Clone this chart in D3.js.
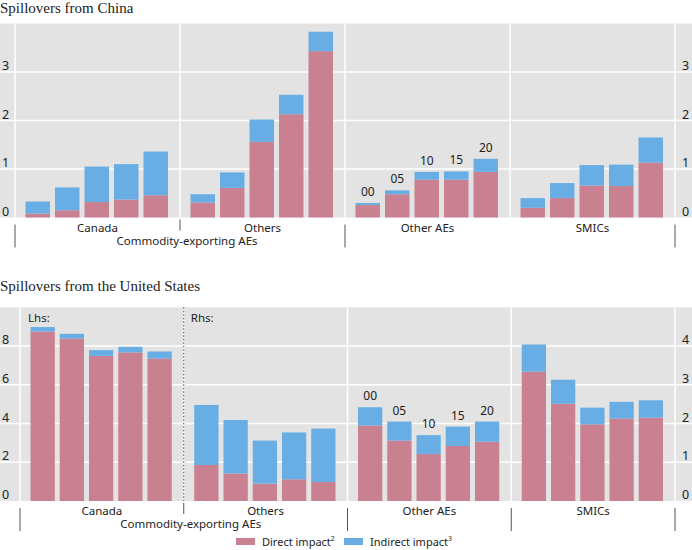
<!DOCTYPE html>
<html>
<head>
<meta charset="utf-8">
<script src="https://cdn.jsdelivr.net/npm/d3@7"></script>
<style>
  body { margin: 0; background: #fff; }
  text { font-family: "Noto Sans", sans-serif; fill: #222; }
  .title { font-family: "Liberation Serif", serif; font-size: 15px; }
</style>
</head>
<body>
<svg id="chart"></svg>
<script>
let years = ["00", "05", "10", "15", "20"];
let groups = ["Canada", "Others", "Other AEs", "SMICs"];

// spillovers from China, one row per group
let chinaDirect = [
  [0.08, 0.15, 0.32, 0.37, 0.46],
  [0.31, 0.61, 1.56, 2.13, 3.43],
  [0.26, 0.48, 0.78, 0.78, 0.94],
  [0.20, 0.40, 0.66, 0.65, 1.13]
];
let chinaIndirect = [
  [0.25, 0.47, 0.73, 0.73, 0.90],
  [0.17, 0.32, 0.46, 0.40, 0.40],
  [0.04, 0.08, 0.16, 0.17, 0.27],
  [0.20, 0.31, 0.42, 0.44, 0.52]
];

// spillovers from the US, Canada on lhs, the rest on rhs
let usDirect = [
  [8.75, 8.39, 7.49, 7.67, 7.36],
  [0.93, 0.71, 0.45, 0.56, 0.49],
  [1.95, 1.56, 1.21, 1.42, 1.53],
  [3.34, 2.51, 1.98, 2.13, 2.15]
];
let usIndirect = [
  [0.23, 0.24, 0.30, 0.29, 0.36],
  [1.55, 1.38, 1.11, 1.21, 1.38],
  [0.47, 0.49, 0.49, 0.50, 0.52],
  [0.70, 0.62, 0.43, 0.43, 0.45]
];

let chinaTicks = [0, 1, 2, 3];
let usLeftTicks = [0, 2, 4, 6, 8];
let usRightTicks = [0, 1, 2, 3, 4];

let w = 692;
let h = 550;
let colDirect = "#c98090";
let colIndirect = "#68aee4";
let bg = "#e3e3e3";

let svg = d3.select("#chart").attr("width", w).attr("height", h);

let drawChart = (o) => {
  let g = svg.append("g");

  g.append("text").attr("class", "title")
    .attr("x", 0).attr("y", o.titleY).text(o.title);

  g.append("rect")
    .attr("x", 0).attr("y", o.top)
    .attr("width", w).attr("height", o.bottom - o.top)
    .attr("fill", bg);

  let xg = d3.scaleBand().domain(groups).range(o.xRange);

  // horizontal grid from the left scale
  g.selectAll(".grid")
    .data(o.leftTicks.filter(d => d > 0))
    .enter().append("line")
    .attr("x1", 0).attr("x2", w)
    .attr("y1", d => o.yLeft(d)).attr("y2", d => o.yLeft(d))
    .attr("stroke", "#fff").attr("stroke-width", 1.5);

  // vertical separators between groups
  let seps = groups.map(d => xg(d)).concat([o.xRange[1]]);
  g.selectAll(".vsep")
    .data(seps)
    .enter().append("line")
    .attr("x1", d => d).attr("x2", d => d)
    .attr("y1", o.top).attr("y2", o.bottom)
    .attr("stroke", "#fff").attr("stroke-width", 1.5);

  groups.forEach((grp, gi) => {
    let y = o.scaleFor(gi);
    let xb = d3.scaleBand().domain(years)
      .range([xg(grp) + 10.5, xg(grp) + xg.bandwidth() - 12])
      .paddingInner(0.17);

    let rows = years.map((yr, i) => ({ year: yr, direct: o.direct[gi][i], indirect: o.indirect[gi][i] }));
    let stack = d3.stack().keys(["direct", "indirect"])(rows);

    g.append("g").selectAll("g")
      .data(stack)
      .enter().append("g")
      .attr("fill", d => d.key === "direct" ? colDirect : colIndirect)
      .selectAll("rect")
      .data(d => d)
      .enter().append("rect")
      .attr("x", d => xb(d.data.year))
      .attr("width", xb.bandwidth())
      .attr("y", d => y(d[1]))
      .attr("height", d => y(d[0]) - y(d[1]));

    if (grp === "Other AEs") {
      g.selectAll(".yr" + gi)
        .data(rows)
        .enter().append("text")
        .attr("x", d => xb(d.year) + xb.bandwidth() / 2)
        .attr("y", d => y(d.direct + d.indirect) - 7)
        .attr("text-anchor", "middle")
        .attr("font-size", "12px")
        .text(d => d.year);
    }

    g.append("text")
      .attr("x", xg(grp) + xg.bandwidth() / 2)
      .attr("y", o.labelY)
      .attr("text-anchor", "middle")
      .attr("font-size", "11.5px")
      .text(grp);
  });

  g.append("text")
    .attr("x", (xg("Canada") + xg("Others") + xg.bandwidth()) / 2 + 7)
    .attr("y", o.labelY + 13)
    .attr("text-anchor", "middle")
    .attr("font-size", "11.5px")
    .text("Commodity-exporting AEs");

  // tick labels
  g.selectAll(".lt")
    .data(o.leftTicks)
    .enter().append("text")
    .attr("x", 2).attr("y", d => o.yLeft(d) - 2)
    .attr("font-size", "12.5px")
    .text(d => d);
  g.selectAll(".rt")
    .data(o.rightTicks)
    .enter().append("text")
    .attr("x", 682).attr("y", d => o.yRight(d) - 2)
    .attr("font-size", "12.5px")
    .text(d => d);

  // group ticks under the axis
  g.selectAll(".ltick")
    .data(o.longTicks.map(i => seps[i]))
    .enter().append("line")
    .attr("x1", d => d).attr("x2", d => d)
    .attr("y1", o.bottom + 7).attr("y2", o.bottom + 30)
    .attr("stroke", "#555").attr("stroke-width", 1);
  g.append("line")
    .attr("x1", seps[1]).attr("x2", seps[1])
    .attr("y1", o.bottom + 2).attr("y2", o.bottom + 13)
    .attr("stroke", "#555").attr("stroke-width", 1);

  return { g: g, xg: xg };
};

// China
let yChina = d3.scaleLinear().domain([0, 4]).range([217.5, 23.5]);
drawChart({
  title: "Spillovers from China",
  titleY: 13,
  top: 23.5, bottom: 217.5,
  xRange: [15, 675],
  direct: chinaDirect, indirect: chinaIndirect,
  yLeft: yChina, yRight: yChina,
  scaleFor: () => yChina,
  leftTicks: chinaTicks, rightTicks: chinaTicks,
  labelY: 232,
  longTicks: [0, 2, 4]
});

// United States
let yUsL = d3.scaleLinear().domain([0, 10]).range([501, 307.3]);
let yUsR = d3.scaleLinear().domain([0, 5]).range([501, 307.3]);
let us = drawChart({
  title: "Spillovers from the United States",
  titleY: 291,
  top: 307.3, bottom: 501,
  xRange: [20, 675],
  direct: usDirect, indirect: usIndirect,
  yLeft: yUsL, yRight: yUsR,
  scaleFor: (gi) => gi === 0 ? yUsL : yUsR,
  leftTicks: usLeftTicks, rightTicks: usRightTicks,
  labelY: 515,
  longTicks: [0, 2, 3, 4]
});

let sepX = us.xg("Others");
us.g.append("line")
  .attr("x1", sepX).attr("x2", sepX)
  .attr("y1", 307.3).attr("y2", 501)
  .attr("stroke", "#444").attr("stroke-width", 1)
  .attr("stroke-dasharray", "1.5,2");
us.g.append("text").attr("x", us.xg("Canada") + 8).attr("y", 322)
  .attr("font-size", "11.5px").text("Lhs:");
us.g.append("text").attr("x", sepX + 7).attr("y", 322)
  .attr("font-size", "11.5px").text("Rhs:");

// legend
let legendItems = [
  { label: "Direct impact", sup: "2", color: colDirect, x: 236 },
  { label: "Indirect impact", sup: "3", color: colIndirect, x: 344 }
];
let lg = svg.append("g");
legendItems.forEach(d => {
  lg.append("rect").attr("x", d.x).attr("y", 538)
    .attr("width", 19).attr("height", 7).attr("fill", d.color);
  let t = lg.append("text").attr("x", d.x + 26).attr("y", 546)
    .attr("font-size", "11px");
  t.append("tspan").text(d.label);
  t.append("tspan").attr("font-size", "7px").attr("dy", -5).text(d.sup);
});
</script>
</body>
</html>
